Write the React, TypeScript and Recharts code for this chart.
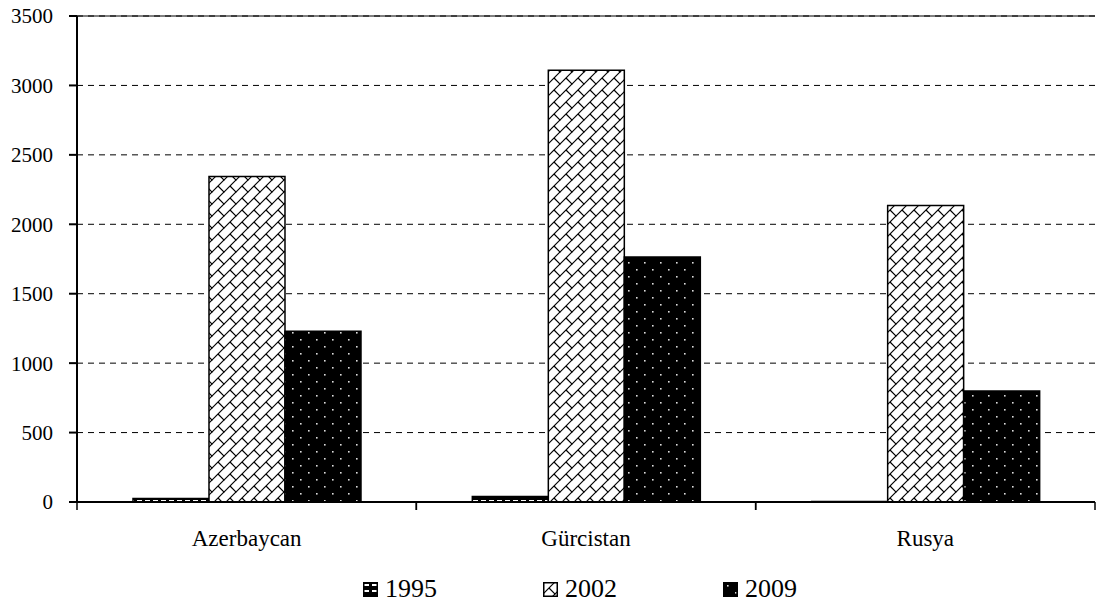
import { BarChart, Bar, XAxis, YAxis, CartesianGrid, Legend, ReferenceLine } from "recharts";

// values
const countries = ["Azerbaycan", "Gürcistan", "Rusya"];
const values1995 = [25, 40, 3];
const values2002 = [2345, 3110, 2135];
const values2009 = [1230, 1765, 800];
const seriesNames = ["1995", "2002", "2009"];
const yTicks = [0, 500, 1000, 1500, 2000, 2500, 3000, 3500];

const data = countries.map((name, i) => ({
    name,
    y1995: values1995[i],
    y2002: values2002[i],
    y2009: values2009[i],
}));

const FONT = "'Times New Roman', 'Liberation Serif', Times, 'DejaVu Serif', serif";
const CHART_W = 1090;
const CHART_H = 598;
const MARGIN = { top: 16, right: 3, left: 0, bottom: 0 };
const Y_W = 69;
const PLOT_W = CHART_W - MARGIN.left - MARGIN.right - Y_W;

const fills = ["url(#pat1995)", "url(#pat2002)", "url(#pat2009)"];

const CategoryTick = (props: any) => {
    const { x, y, payload } = props;
    const half = payload && payload.offset > 10 ? payload.offset : PLOT_W / countries.length / 2;
    return (
        <g>
            <line x1={x - half} x2={x - half} y1={y} y2={y + 8} stroke="#000" strokeWidth={1.5} />
            <line x1={x + half} x2={x + half} y1={y} y2={y + 8} stroke="#000" strokeWidth={1.5} />
            <text x={x} y={y + 44} textAnchor="middle" fill="#000" fontSize={23} style={{ fontFamily: FONT }}>
                {payload.value}
            </text>
        </g>
    );
};

const LegendBox = () => (
    <div
        style={{
            height: 46,
            boxSizing: "border-box",
            paddingTop: 28,
            paddingLeft: 355,
            display: "flex",
            alignItems: "center",
            fontFamily: FONT,
            fontSize: 26,
            color: "#000",
        }}
    >
        {seriesNames.map((s, i) => (
            <div key={s} style={{ width: 180, display: "flex", alignItems: "center" }}>
                <svg width={15} height={15} style={{ marginRight: 7 }}>
                    <rect x={0.75} y={0.75} width={13.5} height={13.5} fill={fills[i]} stroke="#000" strokeWidth={1.5} />
                </svg>
                <span style={{ lineHeight: "24px" }}>{s}</span>
            </div>
        ))}
    </div>
);

export default function App() {
    return (
        <div style={{ width: CHART_W, height: CHART_H, marginTop: -8, background: "#fff", fontFamily: FONT }}>
            <BarChart width={CHART_W} height={CHART_H} data={data} margin={MARGIN} barCategoryGap="16.5%" barGap={0}>
                <defs>
                    <pattern id="pat1995" patternUnits="userSpaceOnUse" width={8} height={6}>
                        <rect width={8} height={6} fill="#000" />
                        <rect x={1} y={2} width={5} height={2} fill="#fff" />
                    </pattern>
                    <pattern id="pat2002" patternUnits="userSpaceOnUse" width={12} height={12}>
                        <rect width={12} height={12} fill="#fff" />
                        <path d="M-1 13 L13 -1" stroke="#000" strokeWidth={1.2} fill="none" />
                        <path d="M6 6 L12.5 12.5 M-0.5 -0.5 L0.5 0.5" stroke="#000" strokeWidth={1.2} fill="none" />
                    </pattern>
                    <pattern id="pat2009" patternUnits="userSpaceOnUse" width={16} height={14}>
                        <rect width={16} height={14} fill="#000" />
                        <rect x={4} y={3} width={1.6} height={1.6} fill="#ddd" />
                        <rect x={12} y={10} width={1.6} height={1.6} fill="#ddd" />
                    </pattern>
                </defs>
                <CartesianGrid vertical={false} stroke="#000" strokeWidth={1} strokeDasharray="6 5" />
                <ReferenceLine y={3500} stroke="#000" strokeWidth={1} />
                <XAxis
                    dataKey="name"
                    height={50}
                    axisLine={{ stroke: "#000", strokeWidth: 2 }}
                    tickLine={false}
                    tickSize={0}
                    tickMargin={0}
                    tick={<CategoryTick />}
                    interval={0}
                />
                <YAxis
                    width={Y_W}
                    domain={[0, 3500]}
                    ticks={yTicks}
                    interval={0}
                    axisLine={{ stroke: "#000", strokeWidth: 2 }}
                    tickLine={{ stroke: "#000", strokeWidth: 2 }}
                    tickSize={8}
                    tickMargin={16}
                    tick={{ fill: "#000", fontSize: 21, style: { fontFamily: FONT } }}
                />
                <Legend verticalAlign="bottom" content={<LegendBox />} />
                <Bar dataKey="y1995" name="1995" fill={fills[0]} stroke="#000" strokeWidth={1.5} isAnimationActive={false} />
                <Bar dataKey="y2002" name="2002" fill={fills[1]} stroke="#000" strokeWidth={1.5} isAnimationActive={false} />
                <Bar dataKey="y2009" name="2009" fill={fills[2]} stroke="#000" strokeWidth={1.5} isAnimationActive={false} />
            </BarChart>
        </div>
    );
}
